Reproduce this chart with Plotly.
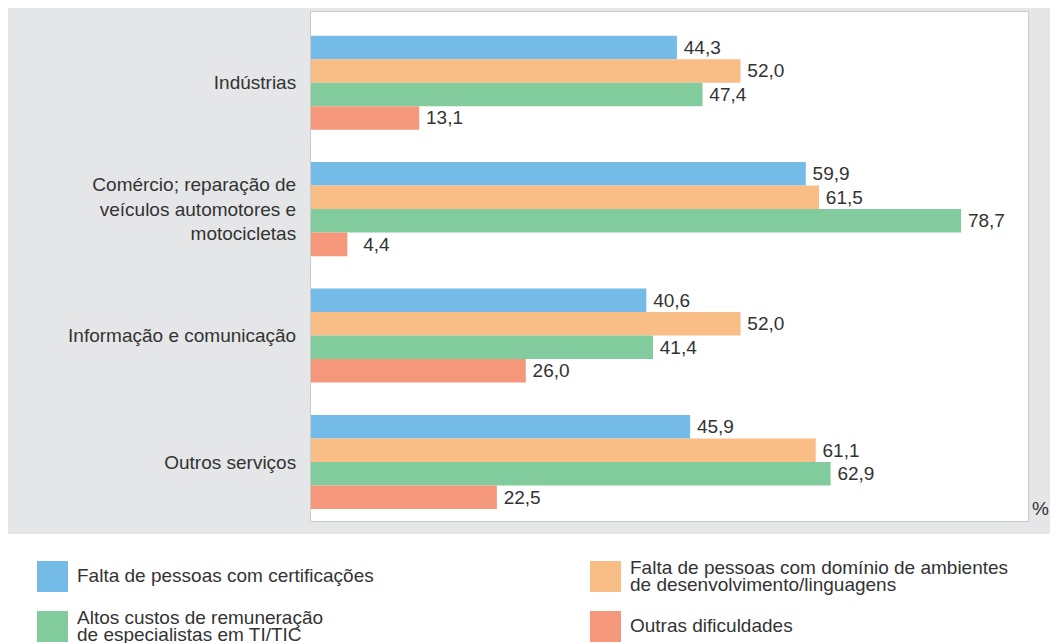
import plotly.graph_objects as go

categories = [
    "Indústrias",
    "Comércio; reparação de<br>veículos automotores e<br>motocicletas",
    "Informação e comunicação",
    "Outros serviços",
]
series_names = [
    "Falta de pessoas com certificações",
    "Falta de pessoas com domínio de ambientes<br>de desenvolvimento/linguagens",
    "Altos custos de remuneração<br>de especialistas em TI/TIC",
    "Outras dificuldades",
]
falta_certificacoes = [44.3, 59.9, 40.6, 45.9]
falta_dominio = [52.0, 61.5, 52.0, 61.1]
altos_custos = [47.4, 78.7, 41.4, 62.9]
outras = [13.1, 4.4, 26.0, 22.5]
series_values = [falta_certificacoes, falta_dominio, altos_custos, outras]
colors = ["#74BCE7", "#F9BD86", "#82CB9D", "#F4977B"]

FONT = "Liberation Sans, Arial, sans-serif"
TXT = "#333333"
OFF = 8  # page body margin
W, H = 1058 - OFF, 643 - OFF
ML, MT = 311 - OFF, 12 - OFF
PW, PH = 717, 509
MR = W - ML - PW
MB = H - MT - PH


def px(x):
    # page x pixel -> paper coordinate
    return (x - OFF - ML) / PW


def py(y):
    # page y pixel -> paper coordinate
    return (H - MB - (y - OFF)) / PH


def fmt(v):
    s = f"{v:.1f}".replace(".", ",")
    return (" \u2009\u2009" + s) if v < 10 else ("\u2009" + s)


fig = go.Figure()
for name, vals, col in zip(series_names, series_values, colors):
    fig.add_trace(go.Bar(
        y=categories, x=vals, orientation="h", name=name,
        marker=dict(color=col, line=dict(width=0)),
        text=[fmt(v) for v in vals], textposition="outside",
        textfont=dict(family=FONT, size=19, color=TXT),
        constraintext="none", cliponaxis=False, showlegend=False,
    ))

shapes = [
    dict(type="rect", xref="paper", yref="paper", x0=px(5), x1=px(1058),
         y0=py(534), y1=py(0), fillcolor="#E5E6E8", line=dict(width=0), layer="below"),
    dict(type="rect", xref="paper", yref="paper", x0=0, x1=1, y0=0, y1=1,
         fillcolor="white", line=dict(width=0), layer="below"),
]
annotations = [
    dict(text="%", xref="paper", yref="paper", x=px(1040.5), y=py(508),
         xanchor="center", yanchor="middle", showarrow=False,
         font=dict(family=FONT, size=19, color=TXT)),
]

# manual legend (large swatches, tight leading as in the reference)
col_left = [37, 590]
row_top = [561, 611]
for i, (name, col) in enumerate(zip(series_names, colors)):
    c, r = i % 2, i // 2
    x0, y0 = col_left[c], row_top[r]
    shapes.append(dict(type="rect", xref="paper", yref="paper",
                       x0=px(x0), x1=px(x0 + 31), y0=py(y0 + 31), y1=py(y0),
                       fillcolor=col, line=dict(width=0)))
    lines = name.split("<br>")
    centers = [y0 + 14] if len(lines) == 1 else [y0 + 6, y0 + 23]
    for line, cy in zip(lines, centers):
        annotations.append(dict(text=line, xref="paper", yref="paper",
                                x=px(x0 + 38), y=py(cy), xanchor="left",
                                yanchor="middle", showarrow=False,
                                font=dict(family=FONT, size=19, color=TXT)))

fig.update_layout(
    width=W, height=H,
    margin=dict(l=ML, r=MR, t=MT, b=MB),
    paper_bgcolor="white", plot_bgcolor="rgba(0,0,0,0)",
    barmode="group", bargap=0.256, bargroupgap=0,
    font=dict(family=FONT, size=19, color=TXT),
    shapes=shapes, annotations=annotations, showlegend=False,
    xaxis=dict(range=[0, 86.8], showticklabels=False, showgrid=False,
               zeroline=False, showline=True, mirror=True,
               linecolor="#C9CACC", linewidth=1, ticks=""),
    yaxis=dict(range=[3.467, -0.559], showgrid=False, zeroline=False,
               showline=True, mirror=True, linecolor="#C9CACC", linewidth=1,
               ticks="", ticklabelstandoff=10,
               tickfont=dict(family=FONT, size=19, color=TXT)),
)

fig.write_html("out.html")
